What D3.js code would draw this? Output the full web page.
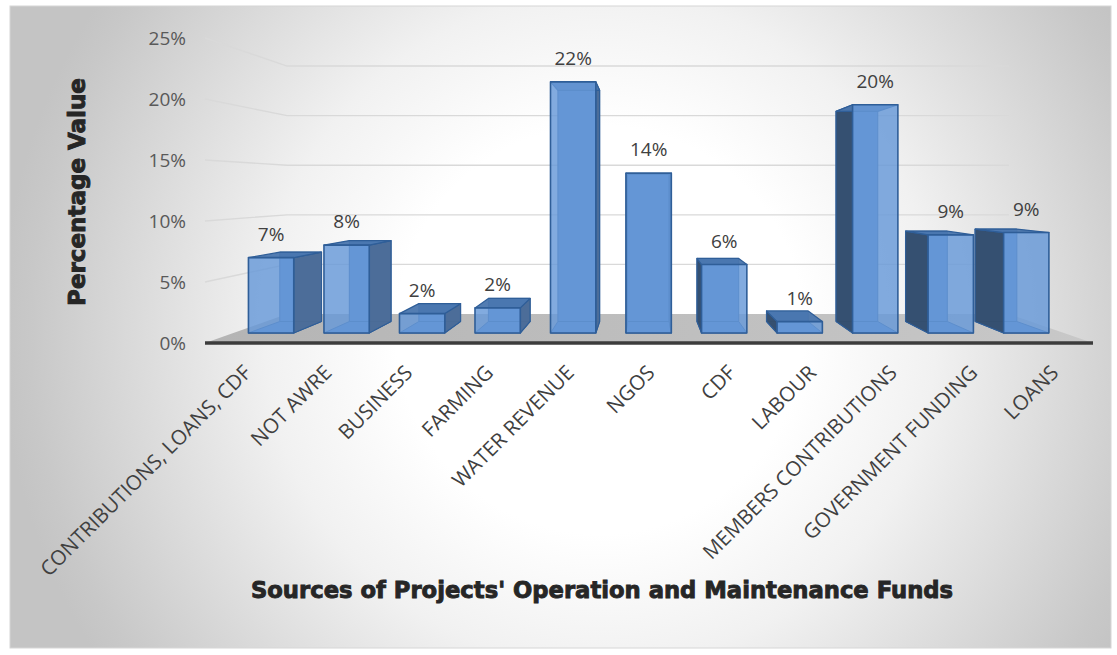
<!DOCTYPE html>
<html>
<head>
<meta charset="utf-8">
<script src="https://cdn.jsdelivr.net/npm/d3@7"></script>
<style>
  body { margin: 0; background: #ffffff; }
  svg { display: block; }
</style>
</head>
<body>
<script>
// Sources of O&M funds, share of respondents
const categories = [
  "CONTRIBUTIONS, LOANS, CDF", "NOT AWRE", "BUSINESS", "FARMING", "WATER REVENUE",
  "NGOS", "CDF", "LABOUR", "MEMBERS CONTRIBUTIONS", "GOVERNMENT FUNDING", "LOANS"
];
const values = [0.066, 0.077, 0.017, 0.022, 0.22, 0.14, 0.06, 0.01, 0.20, 0.086, 0.088];
const yTicks = [0, 0.05, 0.10, 0.15, 0.20, 0.25];
const yTitle = "Percentage Value";
const xTitle = "Sources of Projects' Operation and Maintenance Funds";

const W = 1117, H = 655;
const svg = d3.select("body").append("svg").attr("width", W).attr("height", H);
const defs = svg.append("defs");

// card background: soft radial light
const bg = defs.append("radialGradient").attr("id", "bg")
  .attr("gradientUnits", "userSpaceOnUse")
  .attr("cx", 600).attr("cy", 330).attr("r", 600);
bg.append("stop").attr("offset", "0").attr("stop-color", "#ffffff");
bg.append("stop").attr("offset", "0.34").attr("stop-color", "#ffffff");
bg.append("stop").attr("offset", "0.56").attr("stop-color", "#f1f1f1");
bg.append("stop").attr("offset", "0.95").attr("stop-color", "#c8c8c8");
bg.append("stop").attr("offset", "1").attr("stop-color", "#c4c4c4");

svg.append("rect").attr("x", 10).attr("y", 6).attr("width", 1101).attr("height", 642)
  .attr("fill", "url(#bg)").attr("stroke", "#d6d6d6").attr("stroke-width", 1);

// perspective: vanishing point and depth factor of the plot box
const vp = { x: 644, y: 188 };
const DEPTH = 0.23;
function proj(X, Y, z) {
  const k = 1 / (1 + DEPTH * z);
  return [vp.x + (X - vp.x) * k, vp.y + (Y - vp.y) * k];
}

const floorX0 = 205, floorX1 = 1093;
const x = d3.scaleBand().domain(categories).range([floorX0, floorX1])
  .paddingInner(0.4).paddingOuter(0.2);
const y = d3.scaleLinear().domain([0, 0.25]).range([343, 38]);
const pct = d3.format(".0%");
const line = d3.line();
const bodyFont = "'Open Sans', 'Liberation Sans', sans-serif";
const titleFont = "'DejaVu Sans', 'Liberation Sans', sans-serif";

// floor
const floorPts = [proj(floorX0, y(0), 0), proj(floorX1, y(0), 0), proj(floorX1, y(0), 1), proj(floorX0, y(0), 1)];
const fg = defs.append("linearGradient").attr("id", "floor").attr("x1", 0).attr("x2", 1).attr("y1", 0).attr("y2", 0);
fg.append("stop").attr("offset", 0).attr("stop-color", "#b4b4b4");
fg.append("stop").attr("offset", 1).attr("stop-color", "#c8c8c8");
svg.append("path").attr("d", line(floorPts) + "Z").attr("fill", "url(#floor)");

// gridlines on side wall and back wall
svg.append("g").selectAll("path").data(yTicks.filter(t => t > 0)).join("path")
  .attr("d", t => line([proj(floorX0, y(t), 0), proj(floorX0, y(t), 1), proj(floorX1, y(t), 1)]))
  .attr("fill", "none").attr("stroke", "#d9d9d9").attr("stroke-width", 1.4);

// front edge of the floor
svg.append("path")
  .attr("d", line([proj(floorX0, y(0), 0), proj(floorX1, y(0), 0)]))
  .attr("stroke", "#3c3c3c").attr("stroke-width", 3.5).attr("fill", "none");

// y tick labels
svg.append("g").selectAll("text").data(yTicks).join("text")
  .attr("x", 186).attr("y", t => y(t)).attr("dy", "0.36em")
  .attr("text-anchor", "end")
  .attr("font-family", bodyFont)
  .attr("font-size", 19).attr("fill", "#595959")
  .text(t => pct(t));

// 3D bars
const z1 = 0.3, z2 = 0.7;
const data = categories.map((c, i) => ({ c, v: values[i] }));
const order = data.slice().sort((a, b) =>
  Math.abs(x(b.c) + x.bandwidth() / 2 - vp.x) - Math.abs(x(a.c) + x.bandwidth() / 2 - vp.x));

const barsG = svg.append("g");
const edge = "#2f5e98";
order.forEach(d => {
  const X0 = x(d.c), X1 = X0 + x.bandwidth();
  const Yb = y(0), Yt = y(d.v);
  const g = barsG.append("g");
  const face = (pts, fill, op, sw) => g.append("path").attr("d", line(pts) + "Z")
    .attr("fill", fill).attr("fill-opacity", op)
    .attr("stroke", edge).attr("stroke-width", sw).attr("stroke-linejoin", "round");
  // hidden faces first (seen through the translucent front)
  face([proj(X0, Yb, z2), proj(X1, Yb, z2), proj(X1, Yt, z2), proj(X0, Yt, z2)], "#5a8bcb", 1, 1);
  face([proj(X0, Yb, z1), proj(X1, Yb, z1), proj(X1, Yb, z2), proj(X0, Yb, z2)], "#5a8bcb", 1, 1);
  const leftOfVp = X1 < vp.x, rightOfVp = X0 > vp.x;
  if (!leftOfVp) face([proj(X0, Yb, z1), proj(X0, Yt, z1), proj(X0, Yt, z2), proj(X0, Yb, z2)], "#344d6c", 0.95, 1.2);
  if (!rightOfVp) face([proj(X1, Yb, z1), proj(X1, Yt, z1), proj(X1, Yt, z2), proj(X1, Yb, z2)], "#4c6c96", 0.95, 1.2);
  face([proj(X0, Yt, z1), proj(X1, Yt, z1), proj(X1, Yt, z2), proj(X0, Yt, z2)], "#4a76ae", 0.95, 1.2);
  face([proj(X0, Yb, z1), proj(X1, Yb, z1), proj(X1, Yt, z1), proj(X0, Yt, z1)], "#6698d8", 0.82, 1.6);
});

// value labels
svg.append("g").selectAll("text").data(data).join("text")
  .attr("x", d => proj(x(d.c) + x.bandwidth() / 2, y(d.v), z1)[0])
  .attr("y", d => proj(x(d.c) + x.bandwidth() / 2, y(d.v), z1)[1] - 17)
  .attr("text-anchor", "middle")
  .attr("font-family", bodyFont)
  .attr("font-size", 19).attr("fill", "#404040")
  .text(d => pct(d.v));

// category labels, rotated
svg.append("g").selectAll("text").data(categories).join("text")
  .attr("transform", c => `translate(${x(c) + x.bandwidth() / 2 + 7},374) rotate(-45)`)
  .attr("text-anchor", "end")
  .attr("font-family", bodyFont)
  .attr("font-size", 20.5).attr("fill", "#404040")
  .text(c => c);

// axis titles
svg.append("text")
  .attr("transform", "translate(85,192) rotate(-90)")
  .attr("text-anchor", "middle")
  .attr("font-family", titleFont).attr("font-weight", "bold")
  .attr("font-size", 23).attr("fill", "#262626")
  .attr("stroke", "#262626").attr("stroke-width", 0.9)
  .text(yTitle);

svg.append("text")
  .attr("x", 602).attr("y", 598)
  .attr("text-anchor", "middle")
  .attr("font-family", titleFont).attr("font-weight", "bold")
  .attr("font-size", 22.7).attr("fill", "#262626")
  .attr("stroke", "#262626").attr("stroke-width", 0.9)
  .text(xTitle);
</script>
</body>
</html>
